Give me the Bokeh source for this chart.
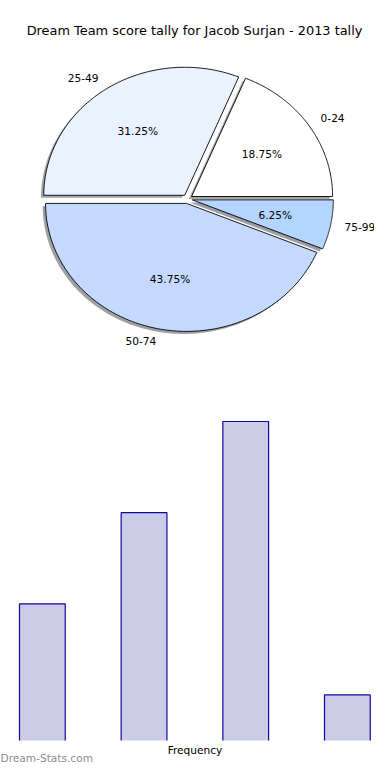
import numpy as np
from bokeh.plotting import figure
from bokeh.models import Range1d, Label
from bokeh.core.properties import value
from bokeh.embed import file_html
from bokeh.resources import INLINE

# ---- data ----
title_text = "Dream Team score tally for Jacob Surjan - 2013 tally"
categories = ["0-24", "25-49", "50-74", "75-99"]
counts = [3, 5, 7, 1]
wedge_colors = ["#FFFFFF", "#EAF1FF", "#C5D9FF", "#B4D5FF"]
xlabel = "Frequency"
watermark = "Dream-Stats.com"

FONT = value("DejaVu Sans")

W, H = 374, 764
# pie placement (pixels) and scale (pixels per pie-radius unit)
cx_px, cy_px = 187.0, 198.5
rx_px, ry_px = 141.0, 128.0
# bar placement
bx0_px, by0_px = 19.0, 740.0
px_per_bx, px_per_by = 101.67, 45.57

p = figure(width=W, height=H, output_backend="svg", toolbar_location=None,
           x_axis_type=None, y_axis_type=None, min_border=0,
           x_range=Range1d(-cx_px / rx_px, (W - cx_px) / rx_px),
           y_range=Range1d(-(H - cy_px) / ry_px, cy_px / ry_px))
p.extra_x_ranges = {"bx": Range1d(-bx0_px / px_per_bx, (W - bx0_px) / px_per_bx)}
p.extra_y_ranges = {"by": Range1d(-(H - by0_px) / px_per_by, by0_px / px_per_by)}
p.grid.visible = False
p.outline_line_color = None

# ---- pie ----
explode = 0.035
shadow_off = -0.02
total = float(sum(counts))
fracs = np.array(counts) / total
ends = np.cumsum(fracs) * 2 * np.pi
starts = ends - fracs * 2 * np.pi

wx, wy, sx, sy, scol = [], [], [], [], []
pct_x, pct_y, pct_t = [], [], []
lab_l = dict(x=[], y=[], t=[])
lab_r = dict(x=[], y=[], t=[])
for i, (a0, a1) in enumerate(zip(starts, ends)):
    mid = 0.5 * (a0 + a1)
    ox, oy = explode * np.cos(mid), explode * np.sin(mid)
    t = np.linspace(a0, a1, 120)
    xs = np.concatenate([[ox], ox + np.cos(t)])
    ys = np.concatenate([[oy], oy + np.sin(t)])
    wx.append(list(xs)); wy.append(list(ys))
    sx.append(list(xs + shadow_off)); sy.append(list(ys + shadow_off))
    h = wedge_colors[i].lstrip("#")
    rgb = [int(h[k:k + 2], 16) for k in (0, 2, 4)]
    scol.append("#%02x%02x%02x" % tuple(int(0.3 * c) for c in rgb))
    pct_x.append(ox + 0.6 * np.cos(mid)); pct_y.append(oy + 0.6 * np.sin(mid))
    pct_t.append("%.2f%%" % (100 * fracs[i]))
    lx, ly = ox + 1.1 * np.cos(mid), oy + 1.1 * np.sin(mid)
    d = lab_l if np.cos(mid) >= 0 else lab_r
    d["x"].append(lx); d["y"].append(ly); d["t"].append(categories[i])

p.patches(xs=sx, ys=sy, fill_color=scol, fill_alpha=0.5, line_color=None)
p.patches(xs=wx, ys=wy, fill_color=wedge_colors, line_color="black", line_width=0.9)

p.text(x=pct_x, y=pct_y, text=pct_t, text_align="center", text_baseline="middle",
       text_font=FONT, text_font_size="10.6px", text_color="black")
p.text(x=lab_l["x"], y=lab_l["y"], text=lab_l["t"], text_align="left", text_baseline="middle",
       text_font=FONT, text_font_size="10.6px", text_color="black")
p.text(x=lab_r["x"], y=lab_r["y"], text=lab_r["t"], text_align="right", text_baseline="middle",
       text_font=FONT, text_font_size="10.6px", text_color="black")

# ---- bars (fill + left/top/right outline, bottom edge hidden as in the original) ----
bar_w = 0.45
lefts = [float(i) for i in range(len(counts))]
rights = [l + bar_w for l in lefts]
p.quad(left=lefts, right=rights, bottom=0, top=counts,
       fill_color="#00008B", fill_alpha=0.2, line_color=None,
       x_range_name="bx", y_range_name="by")
ox_ = [[l, l, r, r] for l, r in zip(lefts, rights)]
oy_ = [[0, c, c, 0] for c in counts]
p.multi_line(xs=ox_, ys=oy_, line_color="#0a0aa0", line_width=1.2,
             x_range_name="bx", y_range_name="by")

# ---- texts ----
p.add_layout(Label(x=194.0, y=H - 30, x_units="screen", y_units="screen", text=title_text,
                   text_align="center", text_baseline="middle", text_font="DejaVu Sans",
                   text_font_size="12.9px", text_color="black"))
p.add_layout(Label(x=194.5, y=H - 749, x_units="screen", y_units="screen", text=xlabel,
                   text_align="center", text_baseline="middle", text_font="DejaVu Sans",
                   text_font_size="10.6px", text_color="black"))
p.add_layout(Label(x=0, y=7, x_units="screen", y_units="screen", text=watermark,
                   text_align="left", text_baseline="middle", text_font="DejaVu Sans",
                   text_font_size="10.6px", text_color="#8c8c8c"))

open("out.html", "w").write(file_html(p, INLINE))
